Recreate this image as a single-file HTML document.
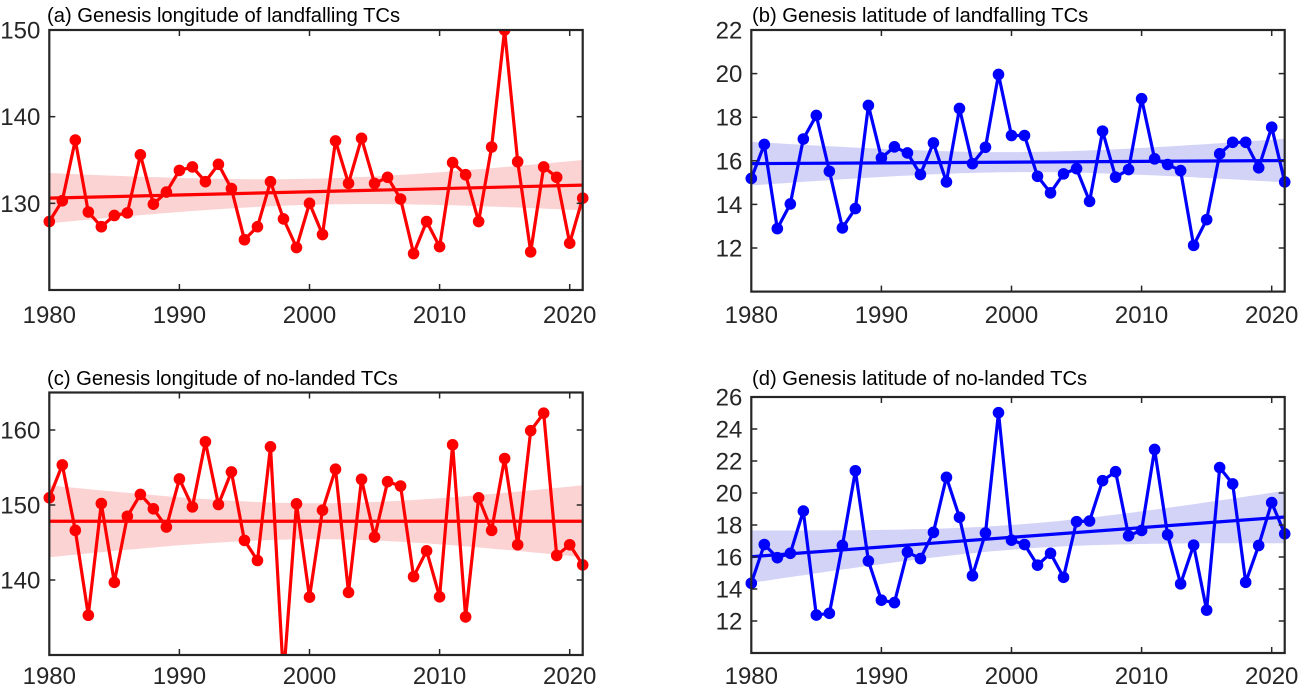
<!DOCTYPE html>
<html><head><meta charset="utf-8"><style>
html,body{margin:0;padding:0;background:#fff;}
svg{display:block;font-family:"Liberation Sans",Arial,sans-serif;}
</style></head><body>
<svg id="fig" width="1300" height="687" viewBox="0 0 1300 687" xmlns="http://www.w3.org/2000/svg"></svg>
<script>
const years = [];
for (let y = 1980; y <= 2021; y++) years.push(y);
const seriesA = [127.9,130.3,137.3,129.0,127.3,128.6,128.9,135.6,129.9,131.3,133.8,134.2,132.5,134.5,131.7,125.8,127.3,132.5,128.2,124.9,130.0,126.4,137.2,132.3,137.5,132.3,133.0,130.5,124.2,127.9,125.0,134.7,133.3,127.9,136.5,150.0,134.8,124.4,134.2,133.0,125.4,130.6];
const seriesB = [15.19,16.75,12.89,14.02,17.0,18.08,15.52,12.92,13.81,18.54,16.13,16.64,16.36,15.37,16.82,15.03,18.40,15.87,16.62,19.96,17.16,17.16,15.29,14.53,15.40,15.64,14.14,17.36,15.25,15.60,18.85,16.09,15.83,15.55,12.12,13.30,16.32,16.85,16.85,15.68,17.54,15.03];
const seriesC = [150.96,155.35,146.62,135.30,150.20,139.69,148.50,151.41,149.49,147.07,153.47,149.75,158.43,150.07,154.41,145.28,142.60,157.76,127.0,150.16,137.72,149.31,154.77,138.34,153.42,145.73,153.11,152.53,140.45,143.89,137.76,158.03,135.08,150.96,146.62,156.20,144.70,159.91,162.24,143.27,144.70,142.01];
const seriesD = [14.36,16.78,15.96,16.23,18.87,12.37,12.48,16.72,21.39,15.75,13.30,13.15,16.31,15.90,17.54,20.98,18.48,14.83,17.50,25.02,17.05,16.78,15.49,16.23,14.73,18.21,18.25,20.77,21.33,17.33,17.66,22.72,17.39,14.32,16.74,12.68,21.59,20.57,14.42,16.72,19.40,17.45];
// trend [value at 1980, value at 2021], CI half-width [ends, centre]
const trendA = [130.6, 132.1], ciA = [2.9, 1.5];
const trendB = [15.87, 16.01], ciB = [1.0, 0.46];
const trendC = [147.83, 147.83], ciC = [4.8, 2.4];
const trendD = [16.02, 18.5], ciD = [1.64, 0.77];
const xTicks = [1980, 1990, 2000, 2010, 2020];
const yTicksA = [130, 140, 150];
const yTicksB = [12, 14, 16, 18, 20, 22];
const yTicksC = [140, 150, 160];
const yTicksD = [12, 14, 16, 18, 20, 22, 24, 26];

const NS = "http://www.w3.org/2000/svg";
const svg = document.getElementById('fig');
function mk(tag, attrs, parent) {
  const e = document.createElementNS(NS, tag);
  for (const k in attrs) e.setAttribute(k, attrs[k]);
  (parent || svg).appendChild(e);
  return e;
}

const panels = [
  {id:'a', title:'(a) Genesis longitude of landfalling TCs', data:seriesA, trend:trendA, ci:ciA, yt:yTicksA,
   x0:49.3, y0:30, y1:290, ymin:120, ymax:150, color:'#ff0000', band:'#fcd3d3', titleX:47, titleY:22, tickLblY:323},
  {id:'b', title:'(b) Genesis latitude of landfalling TCs', data:seriesB, trend:trendB, ci:ciB, yt:yTicksB,
   x0:751.3, y0:30, y1:291.6, ymin:10, ymax:22, color:'#0000ff', band:'#d3d3f8', titleX:752, titleY:22, tickLblY:323},
  {id:'c', title:'(c) Genesis longitude of no-landed TCs', data:seriesC, trend:trendC, ci:ciC, yt:yTicksC,
   x0:49.3, y0:392.5, y1:655, ymin:130, ymax:165, color:'#ff0000', band:'#fcd3d3', titleX:47, titleY:385, tickLblY:684},
  {id:'d', title:'(d) Genesis latitude of no-landed TCs', data:seriesD, trend:trendD, ci:ciD, yt:yTicksD,
   x0:751.3, y0:397, y1:653, ymin:10, ymax:26, color:'#0000ff', band:'#d3d3f8', titleX:752, titleY:385, tickLblY:684}
];

panels.forEach(p => {
  const pxPerYr = 13.01;
  const xs = yr => p.x0 + (yr - 1980) * pxPerYr;
  const ys = v => p.y1 - (v - p.ymin) / (p.ymax - p.ymin) * (p.y1 - p.y0);
  const xR = xs(2021);
  const g = mk('g', {});
  
  
  const clipId = 'clip' + p.id;
  const cp = mk('clipPath', {id: clipId}, g);
  mk('rect', {x:p.x0 - 6, y:p.y0, width:xR - p.x0 + 12, height:p.y1 - p.y0}, cp);
  const plot = mk('g', {'clip-path':'url(#' + clipId + ')'}, g);

  const tm = 2000.5, half = 20.5;
  const bcoef = (p.ci[0]*p.ci[0] - p.ci[1]*p.ci[1]) / (half*half);
  const trendAt = yr => p.trend[0] + (p.trend[1]-p.trend[0]) * (yr-1980)/41;
  const hw = yr => Math.sqrt(p.ci[1]*p.ci[1] + bcoef*(yr-tm)*(yr-tm));
  let up = [], lo = [];
  for (let t = 1980; t <= 2021.001; t += 0.5) {
    up.push(xs(t).toFixed(1) + ',' + ys(trendAt(t)+hw(t)).toFixed(1));
    lo.unshift(xs(t).toFixed(1) + ',' + ys(trendAt(t)-hw(t)).toFixed(1));
  }
  const band = mk('polygon', {points: up.concat(lo).join(' '), fill:p.band, stroke:'none'}, plot);
  
  

  const pts = p.data.map((v,i) => xs(years[i]).toFixed(1) + ',' + ys(v).toFixed(1)).join(' ');
  const line = mk('polyline', {points: pts, fill:'none', stroke:p.color, 'stroke-width':3.2, 'stroke-linejoin':'round'}, plot);
  
  
  p.data.forEach((v,i) => {
    const c = mk('circle', {cx: xs(years[i]), cy: ys(v), r: 5.8, fill: p.color}, plot);
    
    
  });
  const tl = mk('line', {x1:xs(1980), y1:ys(p.trend[0]), x2:xR, y2:ys(p.trend[1]), stroke:p.color, 'stroke-width':3.2}, plot);
  
  

  const box = mk('rect', {x:p.x0, y:p.y0, width:xR-p.x0, height:p.y1-p.y0, fill:'none', stroke:'#262626', 'stroke-width':2.2}, g);
  
  

  xTicks.forEach(t => {
    const x = xs(t);
    mk('line', {x1:x, y1:p.y1, x2:x, y2:p.y1-6, stroke:'#262626', 'stroke-width':1.5}, g);
    mk('line', {x1:x, y1:p.y0, x2:x, y2:p.y0+6, stroke:'#262626', 'stroke-width':1.5}, g);
    const tx = mk('text', {x:x, y:p.tickLblY, 'text-anchor':'middle', 'font-size':24, fill:'#262626'}, g);
    tx.textContent = t;
    
    
  });
  p.yt.forEach(t => {
    const y = ys(t);
    mk('line', {x1:p.x0, y1:y, x2:p.x0+6, y2:y, stroke:'#262626', 'stroke-width':1.5}, g);
    mk('line', {x1:xR, y1:y, x2:xR-6, y2:y, stroke:'#262626', 'stroke-width':1.5}, g);
    const ty = mk('text', {x:p.x0-9, y:y+8.5, 'text-anchor':'end', 'font-size':24, fill:'#262626'}, g);
    ty.textContent = t;
    
    
  });
  const tt = mk('text', {x:p.titleX, y:p.titleY, 'font-size':20.2, fill:'#000'}, g);
  tt.textContent = p.title;
  
  
});
</script>
</body></html>
